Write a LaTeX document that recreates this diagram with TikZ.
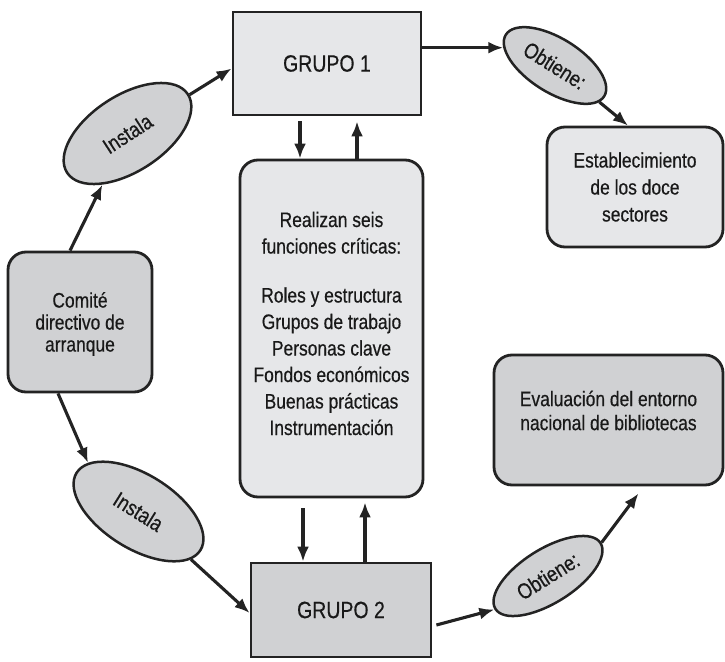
\documentclass[tikz,border=0pt]{standalone}
\usepackage{fontspec}
\setmainfont{Liberation Sans}[FakeStretch=0.83,FakeBold=0.45]
\usetikzlibrary{shapes.geometric,arrows.meta}
\definecolor{lightfill}{HTML}{E6E7E9}
\definecolor{darkfill}{HTML}{D0D1D3}
\definecolor{edgec}{HTML}{232323}
\begin{document}
\begin{tikzpicture}[x=1pt,y=-1pt,
  box/.style={draw=edgec, line width=2.8pt, inner sep=0pt, align=center, text=black!90,
              font=\fontsize{21}{24}\selectfont},
  sq/.style={box, rectangle},
  rbox/.style={box, rounded corners=18pt},
  lbl/.style={align=center, inner sep=0pt, text=black!90},
  oval/.style={draw=edgec, line width=2.5pt, ellipse, fill=darkfill, inner sep=0pt,
               text=black!90, font=\fontsize{22}{24}\selectfont},
  arr/.style={-{Latex[length=15pt,width=12pt]}, line width=3.1pt, draw=edgec},
]
\useasboundingbox (0,0) rectangle (725,661);

% boxes
\node[sq, fill=lightfill, minimum width=188pt, minimum height=103pt,
      font=\fontsize{23.5}{28}\selectfont] (g1) at (327,63.5) {GRUPO 1};
\node[rbox, fill=lightfill, minimum width=183pt, minimum height=337pt] (mid) at (331.5,328.5) {};
\node[lbl, font=\fontsize{21}{26.5}\selectfont] (midtext) at (331.5,323.5)
  {Realizan seis\\funciones críticas:\\[22.5pt]Roles y estructura\\Grupos de trabajo\\Personas clave\\Fondos económicos\\Buenas prácticas\\Instrumentación};
\node[rbox, fill=darkfill, minimum width=144pt, minimum height=140pt] (comite) at (80,322) {};
\node[lbl, font=\fontsize{21}{22}\selectfont] (comitetext) at (80,324)
  {Comité\\directivo de\\arranque};
\node[rbox, fill=lightfill, minimum width=176pt, minimum height=120pt,
      font=\fontsize{21}{27}\selectfont] (est) at (635,187)
  {Establecimiento\\de los doce\\sectores};
\node[rbox, fill=darkfill, minimum width=229pt, minimum height=130pt] (eval) at (608.5,420) {};
\node[lbl, font=\fontsize{21}{24}\selectfont] (evaltext) at (608.5,410.5)
  {Evaluación del entorno\\nacional de bibliotecas};
\node[sq, fill=darkfill, minimum width=180pt, minimum height=94pt,
      font=\fontsize{23.5}{28}\selectfont] (g2) at (341,610) {GRUPO 2};

% ellipses
\node[oval, minimum width=144pt, minimum height=76pt, rotate=33] (ins1) at (127.5,133.5) {Instala};
\node[oval, minimum width=146pt, minimum height=74pt, rotate=-32] (ins2) at (138.5,511.5) {Instala};
\node[oval, minimum width=116pt, minimum height=54pt, rotate=-32] (ob1) at (555,65.5) {Obtiene:};
\node[oval, minimum width=124pt, minimum height=54pt, rotate=32] (ob2) at (548,576) {Obtiene:};

% connectors
\draw[arr] ([xshift=-10pt]comite.north) -- (ins1);
\draw[arr] (ins1) -- ([yshift=-5pt]g1.west);
\draw[arr] ([xshift=-22pt]comite.south) -- (ins2.168);
\draw[arr] (ins2) -- ([yshift=-3pt]g2.west);
\draw[arr] (g1.east |- ob1.193) -- (ob1.193);
\draw[arr] (ob1) -- ([xshift=-7pt]est.north);
\draw[arr] ([xshift=4pt,yshift=-15pt]g2.east) -- (ob2.west);
\draw[arr] (ob2.east) -- ([xshift=30pt,yshift=-7pt]eval.south);

\draw[arr] ([xshift=-27pt,yshift=-5pt]g1.south) -- ([xshift=-31.5pt]mid.north);
\draw[arr] ([xshift=25.5pt]mid.north) -- ([xshift=30pt,yshift=-5pt]g1.south);
\draw[arr] ([xshift=-28.5pt,yshift=-10pt]mid.south) -- ([xshift=-38pt]g2.north);
\draw[arr] ([xshift=24pt]g2.north) -- ([xshift=33.5pt,yshift=-4pt]mid.south);
\end{tikzpicture}
\end{document}
